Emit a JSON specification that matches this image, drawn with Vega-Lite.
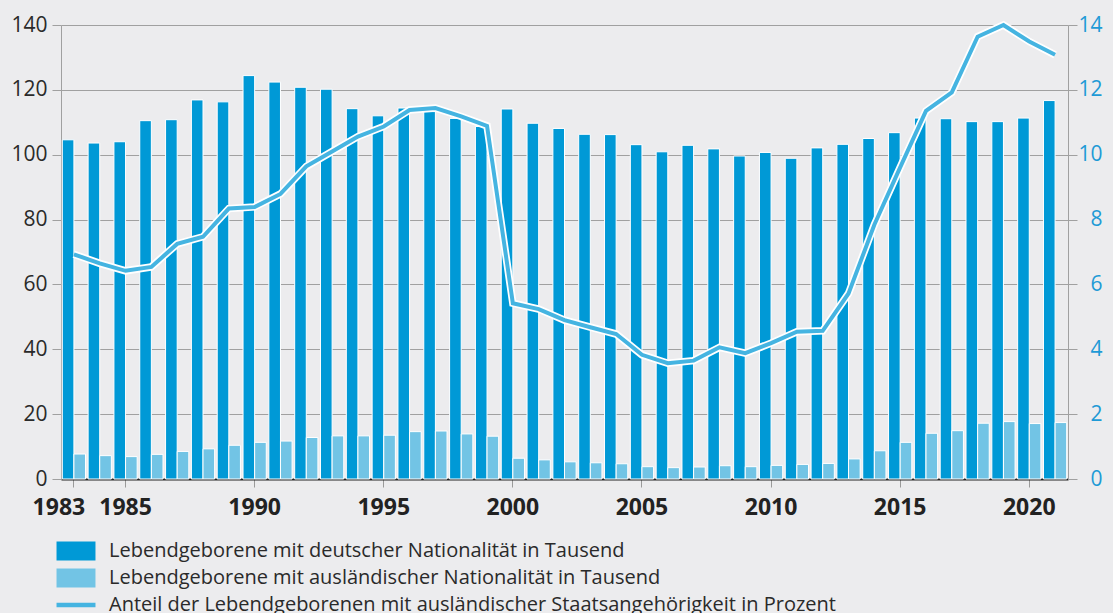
{
  "$schema": "https://vega.github.io/schema/vega-lite/v6.json",
  "width": 1007,
  "height": 454,
  "autosize": {"type": "none"},
  "padding": {"left": 61, "top": 25, "right": 45, "bottom": 134},
  "background": "#ECECEE",
  "config": {
    "view": {"stroke": null},
    "font": "Open Sans"
  },
  "datasets": {
    "bars": [
      {"year": 1983, "series": "Lebendgeborene mit deutscher Nationalität in Tausend", "value": 104.6},
      {"year": 1984, "series": "Lebendgeborene mit deutscher Nationalität in Tausend", "value": 103.6},
      {"year": 1985, "series": "Lebendgeborene mit deutscher Nationalität in Tausend", "value": 104.0},
      {"year": 1986, "series": "Lebendgeborene mit deutscher Nationalität in Tausend", "value": 110.5},
      {"year": 1987, "series": "Lebendgeborene mit deutscher Nationalität in Tausend", "value": 110.8},
      {"year": 1988, "series": "Lebendgeborene mit deutscher Nationalität in Tausend", "value": 116.9},
      {"year": 1989, "series": "Lebendgeborene mit deutscher Nationalität in Tausend", "value": 116.3},
      {"year": 1990, "series": "Lebendgeborene mit deutscher Nationalität in Tausend", "value": 124.4},
      {"year": 1991, "series": "Lebendgeborene mit deutscher Nationalität in Tausend", "value": 122.4},
      {"year": 1992, "series": "Lebendgeborene mit deutscher Nationalität in Tausend", "value": 120.8},
      {"year": 1993, "series": "Lebendgeborene mit deutscher Nationalität in Tausend", "value": 120.2},
      {"year": 1994, "series": "Lebendgeborene mit deutscher Nationalität in Tausend", "value": 114.2},
      {"year": 1995, "series": "Lebendgeborene mit deutscher Nationalität in Tausend", "value": 112.0},
      {"year": 1996, "series": "Lebendgeborene mit deutscher Nationalität in Tausend", "value": 114.4},
      {"year": 1997, "series": "Lebendgeborene mit deutscher Nationalität in Tausend", "value": 113.3},
      {"year": 1998, "series": "Lebendgeborene mit deutscher Nationalität in Tausend", "value": 111.2},
      {"year": 1999, "series": "Lebendgeborene mit deutscher Nationalität in Tausend", "value": 108.7},
      {"year": 2000, "series": "Lebendgeborene mit deutscher Nationalität in Tausend", "value": 114.1},
      {"year": 2001, "series": "Lebendgeborene mit deutscher Nationalität in Tausend", "value": 109.7},
      {"year": 2002, "series": "Lebendgeborene mit deutscher Nationalität in Tausend", "value": 108.1},
      {"year": 2003, "series": "Lebendgeborene mit deutscher Nationalität in Tausend", "value": 106.3},
      {"year": 2004, "series": "Lebendgeborene mit deutscher Nationalität in Tausend", "value": 106.2},
      {"year": 2005, "series": "Lebendgeborene mit deutscher Nationalität in Tausend", "value": 103.1},
      {"year": 2006, "series": "Lebendgeborene mit deutscher Nationalität in Tausend", "value": 100.9},
      {"year": 2007, "series": "Lebendgeborene mit deutscher Nationalität in Tausend", "value": 102.9},
      {"year": 2008, "series": "Lebendgeborene mit deutscher Nationalität in Tausend", "value": 101.8},
      {"year": 2009, "series": "Lebendgeborene mit deutscher Nationalität in Tausend", "value": 99.6},
      {"year": 2010, "series": "Lebendgeborene mit deutscher Nationalität in Tausend", "value": 100.7},
      {"year": 2011, "series": "Lebendgeborene mit deutscher Nationalität in Tausend", "value": 98.9},
      {"year": 2012, "series": "Lebendgeborene mit deutscher Nationalität in Tausend", "value": 102.1},
      {"year": 2013, "series": "Lebendgeborene mit deutscher Nationalität in Tausend", "value": 103.2},
      {"year": 2014, "series": "Lebendgeborene mit deutscher Nationalität in Tausend", "value": 105.0},
      {"year": 2015, "series": "Lebendgeborene mit deutscher Nationalität in Tausend", "value": 106.8},
      {"year": 2016, "series": "Lebendgeborene mit deutscher Nationalität in Tausend", "value": 111.3},
      {"year": 2017, "series": "Lebendgeborene mit deutscher Nationalität in Tausend", "value": 111.1},
      {"year": 2018, "series": "Lebendgeborene mit deutscher Nationalität in Tausend", "value": 110.2},
      {"year": 2019, "series": "Lebendgeborene mit deutscher Nationalität in Tausend", "value": 110.2},
      {"year": 2020, "series": "Lebendgeborene mit deutscher Nationalität in Tausend", "value": 111.3},
      {"year": 2021, "series": "Lebendgeborene mit deutscher Nationalität in Tausend", "value": 116.7},
      {"year": 1983, "series": "Lebendgeborene mit ausländischer Nationalität in Tausend", "value": 7.7},
      {"year": 1984, "series": "Lebendgeborene mit ausländischer Nationalität in Tausend", "value": 7.2},
      {"year": 1985, "series": "Lebendgeborene mit ausländischer Nationalität in Tausend", "value": 6.9},
      {"year": 1986, "series": "Lebendgeborene mit ausländischer Nationalität in Tausend", "value": 7.6},
      {"year": 1987, "series": "Lebendgeborene mit ausländischer Nationalität in Tausend", "value": 8.5},
      {"year": 1988, "series": "Lebendgeborene mit ausländischer Nationalität in Tausend", "value": 9.3},
      {"year": 1989, "series": "Lebendgeborene mit ausländischer Nationalität in Tausend", "value": 10.4},
      {"year": 1990, "series": "Lebendgeborene mit ausländischer Nationalität in Tausend", "value": 11.3},
      {"year": 1991, "series": "Lebendgeborene mit ausländischer Nationalität in Tausend", "value": 11.7},
      {"year": 1992, "series": "Lebendgeborene mit ausländischer Nationalität in Tausend", "value": 12.8},
      {"year": 1993, "series": "Lebendgeborene mit ausländischer Nationalität in Tausend", "value": 13.3},
      {"year": 1994, "series": "Lebendgeborene mit ausländischer Nationalität in Tausend", "value": 13.3},
      {"year": 1995, "series": "Lebendgeborene mit ausländischer Nationalität in Tausend", "value": 13.5},
      {"year": 1996, "series": "Lebendgeborene mit ausländischer Nationalität in Tausend", "value": 14.6},
      {"year": 1997, "series": "Lebendgeborene mit ausländischer Nationalität in Tausend", "value": 14.8},
      {"year": 1998, "series": "Lebendgeborene mit ausländischer Nationalität in Tausend", "value": 13.9},
      {"year": 1999, "series": "Lebendgeborene mit ausländischer Nationalität in Tausend", "value": 13.2},
      {"year": 2000, "series": "Lebendgeborene mit ausländischer Nationalität in Tausend", "value": 6.4},
      {"year": 2001, "series": "Lebendgeborene mit ausländischer Nationalität in Tausend", "value": 5.9},
      {"year": 2002, "series": "Lebendgeborene mit ausländischer Nationalität in Tausend", "value": 5.3},
      {"year": 2003, "series": "Lebendgeborene mit ausländischer Nationalität in Tausend", "value": 5.0},
      {"year": 2004, "series": "Lebendgeborene mit ausländischer Nationalität in Tausend", "value": 4.7},
      {"year": 2005, "series": "Lebendgeborene mit ausländischer Nationalität in Tausend", "value": 3.8},
      {"year": 2006, "series": "Lebendgeborene mit ausländischer Nationalität in Tausend", "value": 3.5},
      {"year": 2007, "series": "Lebendgeborene mit ausländischer Nationalität in Tausend", "value": 3.7},
      {"year": 2008, "series": "Lebendgeborene mit ausländischer Nationalität in Tausend", "value": 4.1},
      {"year": 2009, "series": "Lebendgeborene mit ausländischer Nationalität in Tausend", "value": 3.8},
      {"year": 2010, "series": "Lebendgeborene mit ausländischer Nationalität in Tausend", "value": 4.2},
      {"year": 2011, "series": "Lebendgeborene mit ausländischer Nationalität in Tausend", "value": 4.5},
      {"year": 2012, "series": "Lebendgeborene mit ausländischer Nationalität in Tausend", "value": 4.8},
      {"year": 2013, "series": "Lebendgeborene mit ausländischer Nationalität in Tausend", "value": 6.2},
      {"year": 2014, "series": "Lebendgeborene mit ausländischer Nationalität in Tausend", "value": 8.7},
      {"year": 2015, "series": "Lebendgeborene mit ausländischer Nationalität in Tausend", "value": 11.3},
      {"year": 2016, "series": "Lebendgeborene mit ausländischer Nationalität in Tausend", "value": 14.1},
      {"year": 2017, "series": "Lebendgeborene mit ausländischer Nationalität in Tausend", "value": 14.9},
      {"year": 2018, "series": "Lebendgeborene mit ausländischer Nationalität in Tausend", "value": 17.2},
      {"year": 2019, "series": "Lebendgeborene mit ausländischer Nationalität in Tausend", "value": 17.7},
      {"year": 2020, "series": "Lebendgeborene mit ausländischer Nationalität in Tausend", "value": 17.1},
      {"year": 2021, "series": "Lebendgeborene mit ausländischer Nationalität in Tausend", "value": 17.4}
    ],
    "share": [
      {"year": 1983, "pct": 6.93}, {"year": 1984, "pct": 6.65}, {"year": 1985, "pct": 6.42},
      {"year": 1986, "pct": 6.54}, {"year": 1987, "pct": 7.25}, {"year": 1988, "pct": 7.47},
      {"year": 1989, "pct": 8.34}, {"year": 1990, "pct": 8.39}, {"year": 1991, "pct": 8.79},
      {"year": 1992, "pct": 9.64}, {"year": 1993, "pct": 10.1}, {"year": 1994, "pct": 10.56},
      {"year": 1995, "pct": 10.87}, {"year": 1996, "pct": 11.38}, {"year": 1997, "pct": 11.44},
      {"year": 1998, "pct": 11.18}, {"year": 1999, "pct": 10.89}, {"year": 2000, "pct": 5.42},
      {"year": 2001, "pct": 5.24}, {"year": 2002, "pct": 4.9}, {"year": 2003, "pct": 4.68},
      {"year": 2004, "pct": 4.47}, {"year": 2005, "pct": 3.83}, {"year": 2006, "pct": 3.57},
      {"year": 2007, "pct": 3.65}, {"year": 2008, "pct": 4.06}, {"year": 2009, "pct": 3.88},
      {"year": 2010, "pct": 4.19}, {"year": 2011, "pct": 4.54}, {"year": 2012, "pct": 4.57},
      {"year": 2013, "pct": 5.72}, {"year": 2014, "pct": 7.84}, {"year": 2015, "pct": 9.61},
      {"year": 2016, "pct": 11.35}, {"year": 2017, "pct": 11.92}, {"year": 2018, "pct": 13.64},
      {"year": 2019, "pct": 14.0}, {"year": 2020, "pct": 13.49}, {"year": 2021, "pct": 13.08}
    ]
  },
  "layer": [
    {
      "data": {"name": "bars"},
      "mark": {"type": "bar", "stroke": "white", "strokeWidth": 1},
      "encoding": {
        "x": {
          "field": "year", "type": "ordinal",
          "scale": {"paddingInner": 0.1, "paddingOuter": 0.05},
          "axis": {
            "title": null,
            "values": [1983, 1985, 1990, 1995, 2000, 2005, 2010, 2015, 2020],
            "labelAngle": 0,
            "labelFont": "Open Sans",
            "labelFontSize": 23,
            "labelFontWeight": "bold",
            "labelColor": "#222222",
            "labelPadding": 9,
            "labelOffset": {"condition": {"test": "datum.value == 1983", "value": -15}, "value": 0},
            "domainColor": "#222222",
            "domainWidth": 2,
            "tickColor": "#9a9a9a",
            "tickSize": 8,
            "tickWidth": 1,
            "grid": false
          }
        },
        "xOffset": {
          "field": "series", "type": "nominal",
          "scale": {"domain": ["Lebendgeborene mit deutscher Nationalität in Tausend", "Lebendgeborene mit ausländischer Nationalität in Tausend"], "paddingInner": 0, "paddingOuter": 0}
        },
        "y": {
          "field": "value", "type": "quantitative",
          "scale": {"domain": [0, 140], "nice": false},
          "axis": {
            "title": null,
            "values": [0, 20, 40, 60, 80, 100, 120, 140],
            "labelFont": "Open Sans",
            "labelFontSize": 21,
            "labelColor": "#2a2a2a",
            "labelPadding": 5,
            "tickSize": 9,
            "tickColor": "#a0a0a0",
            "domainColor": "#a0a0a0",
            "gridColor": "#a0a0a0",
            "grid": true
          }
        },
        "color": {
          "field": "series", "type": "nominal",
          "scale": {
            "domain": [
              "Lebendgeborene mit deutscher Nationalität in Tausend",
              "Lebendgeborene mit ausländischer Nationalität in Tausend",
              "Anteil der Lebendgeborenen mit ausländischer Staatsangehörigkeit in Prozent"
            ],
            "range": ["#0099D6", "#72C4E5", "#45B4E1"]
          },
          "legend": {
            "title": null,
            "orient": "none",
            "legendX": 5,
            "legendY": 516,
            "direction": "vertical",
            "padding": 0,
            "labelFont": "Open Sans",
            "labelFontSize": 20,
            "labelColor": "#2a2a2a",
            "labelLimit": 1000,
            "labelOffset": 23,
            "rowPadding": 7,
            "symbolSize": 361,
            "symbolOffset": 0,
            "symbolStrokeWidth": 0,
            "symbolType": {"expr": "datum.value == 'Anteil der Lebendgeborenen mit ausländischer Staatsangehörigkeit in Prozent' ? 'M-2.05,-0.24H2.05V0.24H-2.05Z' : 'M-2.05,-1H2.05V1H-2.05Z'"}
          }
        }
      }
    },
    {
      "data": {"name": "share"},
      "layer": [
        {
          "mark": {"type": "line", "stroke": "white", "strokeWidth": 7.5, "strokeJoin": "miter"},
          "encoding": {
            "x": {"field": "year", "type": "ordinal"},
            "y": {
              "field": "pct", "type": "quantitative",
              "scale": {"domain": [0, 14], "nice": false},
              "axis": {
                "title": null,
                "orient": "right",
                "values": [0, 2, 4, 6, 8, 10, 12, 14],
                "labelFont": "Open Sans",
                "labelFontSize": 21,
                "labelColor": "#1E9AD6",
                "labelAlign": "right",
                "labelPadding": 25,
                "tickSize": 9,
                "tickColor": "#a0a0a0",
                "domainColor": "#a0a0a0",
                "grid": false
              }
            }
          }
        },
        {
          "mark": {"type": "line", "strokeWidth": 4, "strokeJoin": "miter"},
          "encoding": {
            "x": {"field": "year", "type": "ordinal"},
            "y": {
              "field": "pct", "type": "quantitative",
              "scale": {"domain": [0, 14], "nice": false},
              "axis": {
                "title": null,
                "orient": "right",
                "values": [0, 2, 4, 6, 8, 10, 12, 14],
                "labelFont": "Open Sans",
                "labelFontSize": 21,
                "labelColor": "#1E9AD6",
                "labelAlign": "right",
                "labelPadding": 25,
                "tickSize": 9,
                "tickColor": "#a0a0a0",
                "domainColor": "#a0a0a0",
                "grid": false
              }
            },
            "color": {"datum": "Anteil der Lebendgeborenen mit ausländischer Staatsangehörigkeit in Prozent"}
          }
        }
      ]
    }
  ],
  "resolve": {"scale": {"y": "independent"}}
}
